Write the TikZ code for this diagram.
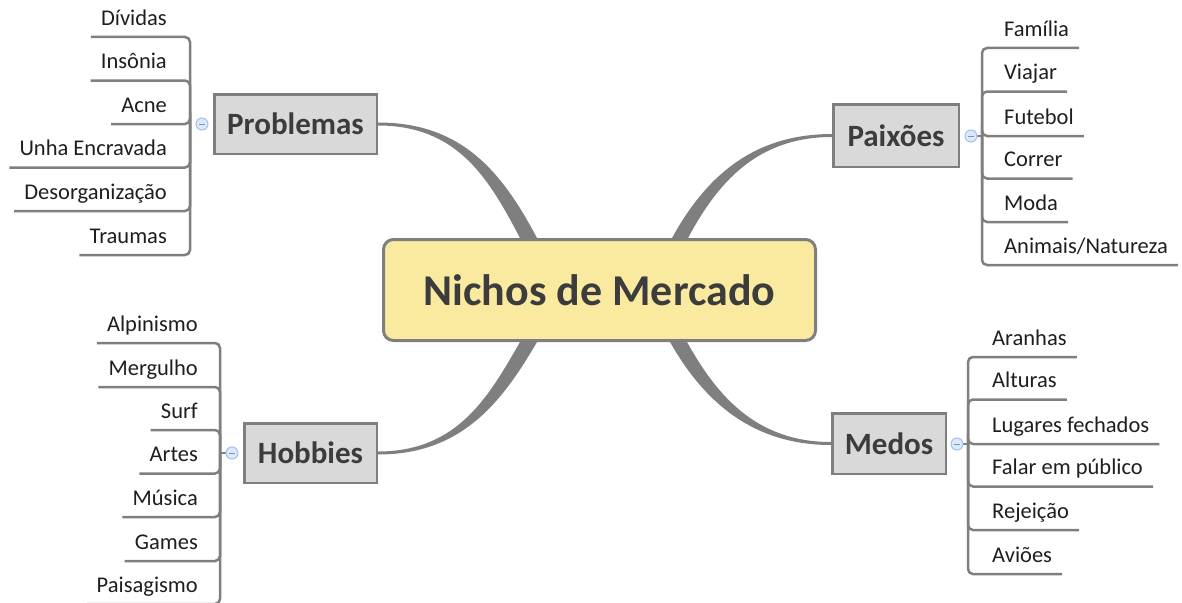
\documentclass[tikz,border=0pt]{standalone}
\usepackage{fontspec}
\setmainfont{Carlito}
\usetikzlibrary{calc,backgrounds}
\definecolor{lgray}{HTML}{7F7F7F}
\definecolor{boxfill}{HTML}{D9D9D9}
\definecolor{cfill}{HTML}{F9EAA0}
\definecolor{ttext}{HTML}{3C3C3C}
\definecolor{ltext}{HTML}{1E1E1E}
\definecolor{cirfill}{HTML}{DCE8FB}
\definecolor{cirline}{HTML}{A3BFEA}
\definecolor{minuscol}{HTML}{7D93B8}
\begin{document}
\begin{tikzpicture}[x=1pt,y=-1pt,
  central/.style={draw=lgray, line width=3pt, fill=cfill, rounded corners=10pt,
    minimum width=432pt, minimum height=101pt, inner sep=0pt,
    font=\fontsize{44}{48}\selectfont\bfseries, text=ttext},
  topic/.style={draw=lgray, line width=2.5pt, fill=boxfill, inner sep=0pt,
    font=\fontsize{31}{34}\selectfont\bfseries, text=ttext},
  leaf/.style={inner xsep=10pt, inner ysep=11.5pt, text depth=0pt,
    font=\fontsize{22.5}{26}\selectfont, text=ltext},
  leafline/.style={draw=lgray, line width=2.5pt, rounded corners=5pt},
  branch/.style={fill=lgray},
  collapse/.style={circle, draw=cirline, line width=1pt, fill=cirfill,
    minimum size=12pt, inner sep=0pt,
    path picture={\draw[minuscol, line width=1pt]
      ([xshift=-3pt]path picture bounding box.center) --
      ([xshift=3pt]path picture bounding box.center);}}
]
\clip (0,0) rectangle (1182,602);

% central and main topics
\node[central] (C) at (599.5,290) {Nichos de Mercado};
\node[topic, minimum width=162.5pt, minimum height=59.5pt] (prob) at (295.5,124) {Problemas};
\node[topic, minimum width=125.5pt, minimum height=62.5pt] (paix) at (896,135.5) {Paixões};
\node[topic, minimum width=132.5pt, minimum height=59.5pt] (hob) at (310.5,453) {Hobbies};
\node[topic, minimum width=113.5pt, minimum height=60.5pt] (med) at (889,443.5) {Medos};

% tapered branches
\begin{scope}[on background layer]
\fill[branch] ($(prob.east)+(0,-1.5)$) .. controls +(84,0) and +(-35,-66) .. ($(C.north)+(-62.5,0)$)
  -- ($(C.north)+(-79.5,0)$) .. controls +(-31,-59) and +(80,0) .. ($(prob.east)+(0,1.5)$) -- cycle;
\fill[branch] ($(paix.west)+(0,-1.5)$) .. controls +(-80,0) and +(33,-60) .. ($(C.north)+(72.5,0)$)
  -- ($(C.north)+(88.5,0)$) .. controls +(29,-54) and +(-76,0) .. ($(paix.west)+(0,1.5)$) -- cycle;
\fill[branch] ($(hob.east)+(0,1.5)$) .. controls +(84,0) and +(-35,60) .. ($(C.south)+(-62.5,0)$)
  -- ($(C.south)+(-79.5,0)$) .. controls +(-31,54) and +(80,0) .. ($(hob.east)+(0,-1.5)$) -- cycle;
\fill[branch] ($(med.west)+(0,1.5)$) .. controls +(-80,0) and +(33,58) .. ($(C.south)+(70.5,0)$)
  -- ($(C.south)+(87.5,0)$) .. controls +(29,52) and +(-76,0) .. ($(med.west)+(0,-1.5)$) -- cycle;
\end{scope}

% Problemas leaves
\node[leaf, anchor=south east] (p1) at (177,37) {Dívidas};
\node[leaf, anchor=south east] (p2) at (177,80.5) {Insônia};
\node[leaf, anchor=south east] (p3) at (177,124) {Acne};
\node[leaf, anchor=south east] (p4) at (177,167.5) {Unha Encravada};
\node[leaf, anchor=south east] (p5) at (177,211) {Desorganização};
\node[leaf, anchor=south east] (p6) at (177,255) {Traumas};
\coordinate (jP) at (190,124);
\foreach \n in {p1,p2,p3,p4,p5,p6} \draw[leafline] (jP) |- (\n.south west);
\node[collapse] (cP) at (202,124) {};

% Paixões leaves
\node[leaf, anchor=south west] (a1) at (994,48) {Família};
\node[leaf, anchor=south west] (a2) at (994,91.5) {Viajar};
\node[leaf, anchor=south west] (a3) at (994,136) {Futebol};
\node[leaf, anchor=south west] (a4) at (994,178.5) {Correr};
\node[leaf, anchor=south west] (a5) at (994,222) {Moda};
\node[leaf, anchor=south west] (a6) at (994,265) {Animais/Natureza};
\coordinate (jA) at (982,136);
\foreach \n in {a1,a2,a3,a4,a5,a6} \draw[leafline] (jA) |- (\n.south east);
\draw[leafline] (jA) -- (971,136);
\node[collapse] (cA) at (971,136) {};

% Hobbies leaves
\node[leaf, anchor=south east] (h1) at (208,343) {Alpinismo};
\node[leaf, anchor=south east] (h2) at (208,387) {Mergulho};
\node[leaf, anchor=south east] (h3) at (208,430) {Surf};
\node[leaf, anchor=south east] (h4) at (208,473.5) {Artes};
\node[leaf, anchor=south east] (h5) at (208,517) {Música};
\node[leaf, anchor=south east] (h6) at (208,561) {Games};
\node[leaf, anchor=south east] (h7) at (208,604) {Paisagismo};
\coordinate (jH) at (220,453);
\foreach \n in {h1,h2,h3,h4,h5,h6,h7} \draw[leafline] (jH) |- (\n.south west);
\draw[leafline] (jH) -- (232,453);
\node[collapse] (cH) at (232,453) {};

% Medos leaves
\node[leaf, anchor=south west] (m1) at (982,357) {Aranhas};
\node[leaf, anchor=south west] (m2) at (982,399.5) {Alturas};
\node[leaf, anchor=south west] (m3) at (982,444) {Lugares fechados};
\node[leaf, anchor=south west] (m4) at (982,486.5) {Falar em público};
\node[leaf, anchor=south west] (m5) at (982,530) {Rejeição};
\node[leaf, anchor=south west] (m6) at (982,574) {Aviões};
\coordinate (jM) at (968,444);
\foreach \n in {m1,m2,m3,m4,m5,m6} \draw[leafline] (jM) |- (\n.south east);
\draw[leafline] (jM) -- (957,444);
\node[collapse] (cM) at (957,444) {};
\end{tikzpicture}
\end{document}
